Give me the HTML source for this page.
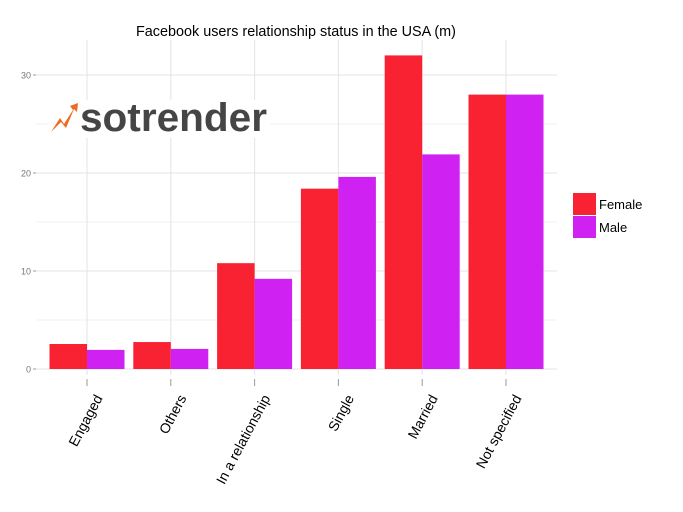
<!DOCTYPE html>
<html><head><meta charset="utf-8"><style>
body{margin:0;background:#fff;font-family:"Liberation Sans",sans-serif}
</style></head><body>
<svg id="chart" width="683" height="507" xmlns="http://www.w3.org/2000/svg">
<text x="296" y="36" font-size="14.4" text-anchor="middle" fill="#000">Facebook users relationship status in the USA (m)</text>
<g id="grid"></g>
<g id="bars"></g>
<g id="axes"></g>
<g>
<rect x="48" y="100" width="222" height="38" fill="#fff"/>
<polygon points="51,132 60,118 64,124 73,110 70,106 78,103 77,112 74,109 66,128 61,122" fill="#ee6a1f"/>
<text x="80" y="131" font-size="40" font-weight="bold" fill="#454545" textLength="187" lengthAdjust="spacingAndGlyphs">sotrender</text>
</g>
<g>
<rect x="573" y="193" width="23" height="22" fill="#f92233"/>
<text x="599" y="209" font-size="13">Female</text>
<rect x="573" y="216" width="23" height="22" fill="#cf22f2"/>
<text x="599" y="232" font-size="13">Male</text>
</g>
</svg>
<script>
const categories=["Engaged","Others","In a relationship","Single","Married","Not specified"];
const female=[2.55,2.75,10.8,18.4,32.0,28.0];
const male=[1.95,2.05,9.2,19.6,21.9,28.0];
const yTicks=[0,10,20,30];
const NS="http://www.w3.org/2000/svg";
const L=36,R=557,T=40,B=369;
const y=v=>369-v*9.8;
const x=i=>87+i*83.8;
const bw=37.5;
function mk(t,a,p){const e=document.createElementNS(NS,t);for(const k in a)e.setAttribute(k,a[k]);p.appendChild(e);return e;}
const grid=document.getElementById('grid'),bars=document.getElementById('bars'),axes=document.getElementById('axes');
[5,15,25].forEach(v=>{const l=mk('line',{x1:L,x2:R,y1:y(v),y2:y(v),stroke:'#f2f2f2','stroke-width':1},grid);

});
yTicks.forEach(v=>{const l=mk('line',{x1:L,x2:R,y1:y(v),y2:y(v),stroke:'#e3e3e3','stroke-width':1},grid);


const t=mk('line',{x1:33,x2:36,y1:y(v),y2:y(v),stroke:'#999'},axes);


const tx=mk('text',{x:31,y:y(v)+3.5,'font-size':9,'text-anchor':'end',fill:'#777'},axes);tx.textContent=v;

});
categories.forEach((c,i)=>{const cx=x(i);
const g=mk('line',{x1:cx,x2:cx,y1:T,y2:B+6,stroke:'#e3e3e3'},grid);


const f=mk('rect',{x:cx-bw,y:y(female[i]),width:bw,height:y(0)-y(female[i]),fill:'#f92233'},bars);


const m=mk('rect',{x:cx,y:y(male[i]),width:bw,height:y(0)-y(male[i]),fill:'#cf22f2'},bars);


const t=mk('line',{x1:cx,x2:cx,y1:379,y2:386,stroke:'#999'},axes);


const ax=cx+16,ay=398;
const tx=mk('text',{x:ax,y:ay,'font-size':14,'text-anchor':'end',transform:`rotate(-62 ${ax} ${ay})`},axes);tx.textContent=c;

});
</script>
</body></html>
